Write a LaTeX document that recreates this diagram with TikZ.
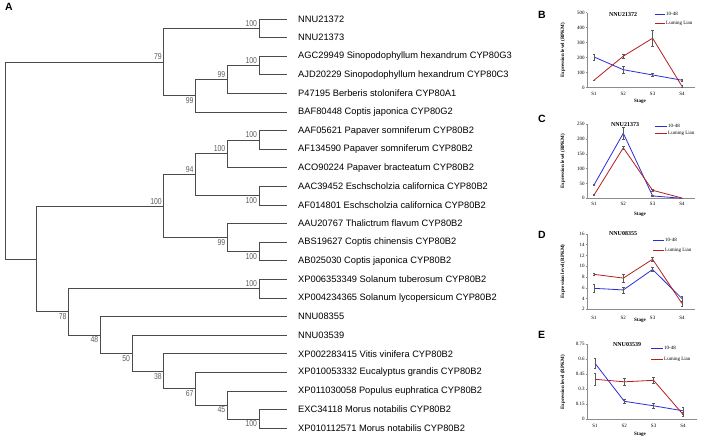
\documentclass[tikz,border=0pt]{standalone}
\usepackage{fontspec}
\setmainfont{Liberation Sans}
\newfontfamily\serfont{Liberation Serif}
\newfontfamily\bootfont[FakeStretch=0.8]{Liberation Sans}
\usetikzlibrary{arrows.meta}
\definecolor{treegray}{RGB}{75,75,75}
\definecolor{bootgray}{RGB}{95,95,95}
\definecolor{serblue}{RGB}{45,45,215}
\definecolor{serred}{RGB}{185,30,30}
\definecolor{axisgray}{RGB}{140,140,140}
\begin{document}
\begin{tikzpicture}[x=1pt,y=-1pt,
  branch/.style={draw=treegray, line width=0.75pt},
  leaflab/.style={anchor=west, inner sep=0pt, font=\fontsize{9.3}{10}\selectfont},
  boot/.style={font=\bootfont\fontsize{8.6}{9}\selectfont, text=bootgray, inner sep=1.8pt},
  panel/.style={font=\bfseries\fontsize{10.5}{12}\selectfont, inner sep=0pt},
  axisline/.style={draw=axisgray, line width=0.5pt},
  ticklab/.style={font=\serfont\fontsize{5}{6}\selectfont, anchor=east, inner sep=0.8pt},
  catlab/.style={font=\serfont\fontsize{5}{6}\selectfont, anchor=north, inner sep=0pt},
  charttitle/.style={font=\serfont\bfseries\fontsize{6}{7}\selectfont, inner sep=0pt},
  leglab/.style={font=\serfont\fontsize{5}{6}\selectfont, anchor=west, inner sep=0pt},
  ylab/.style={font=\serfont\bfseries\fontsize{5}{6}\selectfont, rotate=90, inner sep=0pt},
  xlab/.style={font=\serfont\bfseries\fontsize{5}{6}\selectfont, inner sep=0pt},
  blueser/.style={draw=serblue, line width=0.8pt, line join=round},
  redser/.style={draw=serred, line width=0.8pt, line join=round},
  errbar/.style={draw=black!65, line width=0.35pt, {Bar[width=2.5pt]}-{Bar[width=2.5pt]}}
]
\path[use as bounding box, fill=white] (0,0) rectangle (708,441);

\node[panel, anchor=west] (pA) at (5,7) {A};

% ---------- leaves ----------
\foreach \i/\t in {0/NNU21372, 1/NNU21373,
  2/AGC29949 Sinopodophyllum hexandrum CYP80G3,
  3/AJD20229 Sinopodophyllum hexandrum CYP80C3,
  4/P47195 Berberis stolonifera CYP80A1,
  5/BAF80448 Coptis japonica CYP80G2,
  6/AAF05621 Papaver somniferum CYP80B2,
  7/AF134590 Papaver somniferum CYP80B2,
  8/ACO90224 Papaver bracteatum CYP80B2,
  9/AAC39452 Eschscholzia californica CYP80B2,
  10/AF014801 Eschscholzia californica CYP80B2,
  11/AAU20767 Thalictrum flavum CYP80B2,
  12/ABS19627 Coptis chinensis CYP80B2,
  13/AB025030 Coptis japonica CYP80B2,
  14/XP006353349 Solanum tuberosum CYP80B2,
  15/XP004234365 Solanum lycopersicum CYP80B2,
  16/NNU08355, 17/NNU03539,
  18/XP002283415 Vitis vinifera CYP80B2,
  19/XP010053332 Eucalyptus grandis CYP80B2,
  20/XP011030058 Populus euphratica CYP80B2,
  21/EXC34118 Morus notabilis CYP80B2,
  22/XP010112571 Morus notabilis CYP80B2}
{
  \coordinate (L\i) at (287,{19+18.6*\i});
  \node[leaflab] (T\i) at (298,{19+18.6*\i}) {\t};
}

% ---------- internal nodes ----------
\coordinate (root) at (5,160.5);
\coordinate[label={[boot]above left:79}] (n5) at (163.75,62.0);
\coordinate[label={[boot]above left:100}] (n1) at (259,28.3);
\coordinate[label={[boot]below left:99}] (n4) at (195.5,95.73);
\coordinate[label={[boot]above left:99}] (n3) at (227.25,79.45);
\coordinate[label={[boot]above left:100}] (n2) at (259,65.5);
\coordinate (n21) at (36.75,258.98);
\coordinate[label={[boot]above left:100}] (n12) at (163.75,206.16);
\coordinate[label={[boot]above left:94}] (n9) at (195.5,174.78);
\coordinate[label={[boot]above left:100}] (n7) at (227.25,153.85);
\coordinate[label={[boot]above left:100}] (n6) at (259,139.9);
\coordinate[label={[boot]below left:100}] (n8) at (259,195.7);
\coordinate[label={[boot]below left:99}] (n11) at (227.25,237.55);
\coordinate[label={[boot]below left:100}] (n10) at (259,251.5);
\coordinate[label={[boot]below left:78}] (n20) at (68.5,311.8);
\coordinate[label={[boot]above left:100}] (n13) at (259,288.7);
\coordinate[label={[boot]below left:48}] (n19) at (100.25,334.91);
\coordinate[label={[boot]below left:50}] (n18) at (132,353.22);
\coordinate[label={[boot]below left:38}] (n17) at (163.75,371.24);
\coordinate[label={[boot]below left:67}] (n16) at (195.5,388.68);
\coordinate[label={[boot]below left:45}] (n15) at (227.25,404.95);
\coordinate[label={[boot]below left:100}] (n14) at (259,418.9);

% ---------- branches ----------
\draw[branch] (root) |- (n5);  \draw[branch] (root) |- (n21);
\draw[branch] (n5) |- (n1);    \draw[branch] (n5) |- (n4);
\draw[branch] (n1) |- (L0);    \draw[branch] (n1) |- (L1);
\draw[branch] (n4) |- (n3);    \draw[branch] (n4) |- (L5);
\draw[branch] (n3) |- (n2);    \draw[branch] (n3) |- (L4);
\draw[branch] (n2) |- (L2);    \draw[branch] (n2) |- (L3);
\draw[branch] (n21) |- (n12);  \draw[branch] (n21) |- (n20);
\draw[branch] (n12) |- (n9);   \draw[branch] (n12) |- (n11);
\draw[branch] (n9) |- (n7);    \draw[branch] (n9) |- (n8);
\draw[branch] (n7) |- (n6);    \draw[branch] (n7) |- (L8);
\draw[branch] (n6) |- (L6);    \draw[branch] (n6) |- (L7);
\draw[branch] (n8) |- (L9);    \draw[branch] (n8) |- (L10);
\draw[branch] (n11) |- (L11);  \draw[branch] (n11) |- (n10);
\draw[branch] (n10) |- (L12);  \draw[branch] (n10) |- (L13);
\draw[branch] (n20) |- (n13);  \draw[branch] (n20) |- (n19);
\draw[branch] (n13) |- (L14);  \draw[branch] (n13) |- (L15);
\draw[branch] (n19) |- (L16);  \draw[branch] (n19) |- (n18);
\draw[branch] (n18) |- (L17);  \draw[branch] (n18) |- (n17);
\draw[branch] (n17) |- (L18);  \draw[branch] (n17) |- (n16);
\draw[branch] (n16) |- (L19);  \draw[branch] (n16) |- (n15);
\draw[branch] (n15) |- (L20);  \draw[branch] (n15) |- (n14);
\draw[branch] (n14) |- (L21);  \draw[branch] (n14) |- (L22);

% ---------- chart B ----------
\node[panel, anchor=west] (pB) at (538,15) {B};
\begin{scope}[xshift=587pt, yshift=-87.7pt, x=1pt, y=0.15pt]
  \draw[axisline] (0,0) -- (0,500);
  \draw[axisline] (0,0) -- (108,0);
  \foreach \t in {0,100,...,500} {\draw[axisline] (-1.5,\t) -- (0,\t); \node[ticklab] at (-1.5,\t) {\t};}
  \foreach \s [count=\i] in {S1,S2,S3,S4} \node[catlab] at ({7+29.3*(\i-1)},-27) {\s};
  \node[xlab] (xB) at (53,-93) {Stage};
  \node[ylab] (yB) at (-24,250) {Expression level (RPKM)};
  \node[charttitle] (tB) at (36,488) {NNU21372};
  \foreach \v/\e [count=\i] in {205/20, 120/25, 85/12, 50/8} \coordinate (Bb\i) at ({7+29.3*(\i-1)},\v);
  \foreach \v/\e [count=\i] in {50/4, 210/12, 330/55, 10/5} \coordinate (Br\i) at ({7+29.3*(\i-1)},\v);
  \draw[blueser] (Bb1) -- (Bb2) -- (Bb3) -- (Bb4);
  \draw[redser] (Br1) -- (Br2) -- (Br3) -- (Br4);
  \foreach \v/\e [count=\i] in {205/20, 120/25, 85/12, 50/8} \draw[errbar] ({7+29.3*(\i-1)},\v-\e) -- ({7+29.3*(\i-1)},\v+\e);
  \foreach \v/\e [count=\i] in {50/4, 210/12, 330/55, 10/5} \draw[errbar] ({7+29.3*(\i-1)},\v-\e) -- ({7+29.3*(\i-1)},\v+\e);
  \coordinate (Bl1a) at (68,490); \coordinate (Bl1b) at (78,490);
  \coordinate (Bl2a) at (68,430); \coordinate (Bl2b) at (78,430);
  \draw[blueser] (Bl1a) -- (Bl1b); \node[leglab] at (79,490) {10-48};
  \draw[redser] (Bl2a) -- (Bl2b); \node[leglab] at (79,430) {Luming Lian};
\end{scope}

% ---------- chart C ----------
\node[panel, anchor=west] (pC) at (538,119) {C};
\begin{scope}[xshift=587pt, yshift=-198.3pt, x=1pt, y=0.297pt]
  \draw[axisline] (0,0) -- (0,250);
  \draw[axisline] (0,0) -- (108,0);
  \foreach \t in {0,50,...,250} {\draw[axisline] (-1.5,\t) -- (0,\t); \node[ticklab] at (-1.5,\t) {\t};}
  \foreach \s [count=\i] in {S1,S2,S3,S4} \node[catlab] at ({7+29.3*(\i-1)},-14) {\s};
  \node[xlab] (xC) at (53,-53) {Stage};
  \node[ylab] (yC) at (-24,125) {Expression level (RPKM)};
  \node[charttitle] (tC) at (38,250) {NNU21373};
  \foreach \v/\e [count=\i] in {45/3, 219/20, 8/3, 0/1} \coordinate (Cb\i) at ({7+29.3*(\i-1)},\v);
  \foreach \v/\e [count=\i] in {11/2, 170/6, 27/5, 1/1} \coordinate (Cr\i) at ({7+29.3*(\i-1)},\v);
  \draw[blueser] (Cb1) -- (Cb2) -- (Cb3) -- (Cb4);
  \draw[redser] (Cr1) -- (Cr2) -- (Cr3) -- (Cr4);
  \foreach \v/\e [count=\i] in {45/3, 219/20, 8/3, 0/1} \draw[errbar] ({7+29.3*(\i-1)},\v-\e) -- ({7+29.3*(\i-1)},\v+\e);
  \foreach \v/\e [count=\i] in {11/2, 170/6, 27/5, 1/1} \draw[errbar] ({7+29.3*(\i-1)},\v-\e) -- ({7+29.3*(\i-1)},\v+\e);
  \coordinate (Cl1a) at (68,243); \coordinate (Cl1b) at (80,243);
  \coordinate (Cl2a) at (68,218); \coordinate (Cl2b) at (80,218);
  \draw[blueser] (Cl1a) -- (Cl1b); \node[leglab] at (81,243) {10-48};
  \draw[redser] (Cl2a) -- (Cl2b); \node[leglab] at (81,218) {Luming Lian};
\end{scope}

% ---------- chart D ----------
\node[panel, anchor=west] (pD) at (538,235) {D};
\begin{scope}[xshift=587pt, yshift=-320.06pt, x=1pt, y=5.38pt]
  \draw[axisline] (0,2) -- (0,16);
  \draw[axisline] (0,2) -- (108,2);
  \foreach \t in {2,4,...,16} {\draw[axisline] (-1.5,\t) -- (0,\t); \node[ticklab] at (-1.5,\t) {\t};}
  \foreach \s [count=\i] in {S1,S2,S3,S4} \node[catlab] at ({7+29.3*(\i-1)},0.8) {\s};
  \node[xlab] (xD) at (53,0.0) {Stage};
  \node[ylab] (yD) at (-24,9) {Expression level (RPKM)};
  \node[charttitle] (tD) at (36,16) {NNU08355};
  \foreach \v/\e [count=\i] in {5.9/0.8, 5.6/0.6, 9.4/0.4, 4.0/0.5} \coordinate (Db\i) at ({7+29.3*(\i-1)},\v);
  \foreach \v/\e [count=\i] in {8.5/0.2, 7.8/0.7, 11.3/0.4, 3.1/0.5} \coordinate (Dr\i) at ({7+29.3*(\i-1)},\v);
  \draw[blueser] (Db1) -- (Db2) -- (Db3) -- (Db4);
  \draw[redser] (Dr1) -- (Dr2) -- (Dr3) -- (Dr4);
  \foreach \v/\e [count=\i] in {5.9/0.8, 5.6/0.6, 9.4/0.4, 4.0/0.5} \draw[errbar] ({7+29.3*(\i-1)},\v-\e) -- ({7+29.3*(\i-1)},\v+\e);
  \foreach \v/\e [count=\i] in {8.5/0.2, 7.8/0.7, 11.3/0.4, 3.1/0.5} \draw[errbar] ({7+29.3*(\i-1)},\v-\e) -- ({7+29.3*(\i-1)},\v+\e);
  \coordinate (Dl1a) at (66,14.9); \coordinate (Dl1b) at (77,14.9);
  \coordinate (Dl2a) at (66,12.9); \coordinate (Dl2b) at (77,12.9);
  \draw[blueser] (Dl1a) -- (Dl1b); \node[leglab] at (78,14.9) {10-48};
  \draw[redser] (Dl2a) -- (Dl2b); \node[leglab] at (78,12.9) {Luming Lian};
\end{scope}

% ---------- chart E ----------
\node[panel, anchor=west] (pE) at (538,335) {E};
\begin{scope}[xshift=587pt, yshift=-419.3pt, x=1pt, y=100pt]
  \draw[axisline] (0,0) -- (0,0.75);
  \draw[axisline] (0,0) -- (110,0);
  \foreach \t/\l in {0/0, 0.15/0.15, 0.3/0.3, 0.45/0.45, 0.6/0.6, 0.75/0.75} {\draw[axisline] (-1.5,\t) -- (0,\t); \node[ticklab] at (-1.5,\t) {\l};}
  \foreach \s [count=\i] in {S1,S2,S3,S4} \node[catlab] at ({8+29.3*(\i-1)},-0.05) {\s};
  \node[xlab] (xE) at (53,-0.15) {Stage};
  \node[ylab] (yE) at (-24,0.37) {Expression level (RPKM)};
  \node[charttitle] (tE) at (40,0.75) {NNU03539};
  \foreach \v/\e [count=\i] in {0.56/0.05, 0.18/0.02, 0.135/0.03, 0.085/0.04} \coordinate (Eb\i) at ({8+29.3*(\i-1)},\v);
  \foreach \v/\e [count=\i] in {0.40/0.06, 0.375/0.035, 0.39/0.035, 0.05/0.02} \coordinate (Er\i) at ({8+29.3*(\i-1)},\v);
  \draw[blueser] (Eb1) -- (Eb2) -- (Eb3) -- (Eb4);
  \draw[redser] (Er1) -- (Er2) -- (Er3) -- (Er4);
  \foreach \v/\e [count=\i] in {0.56/0.05, 0.18/0.02, 0.135/0.03, 0.085/0.04} \draw[errbar] ({8+29.3*(\i-1)},\v-\e) -- ({8+29.3*(\i-1)},\v+\e);
  \foreach \v/\e [count=\i] in {0.40/0.06, 0.375/0.035, 0.39/0.035, 0.05/0.02} \draw[errbar] ({8+29.3*(\i-1)},\v-\e) -- ({8+29.3*(\i-1)},\v+\e);
  \coordinate (El1a) at (64,0.71); \coordinate (El1b) at (76,0.71);
  \coordinate (El2a) at (64,0.60); \coordinate (El2b) at (76,0.60);
  \draw[blueser] (El1a) -- (El1b); \node[leglab] at (77,0.71) {10-48};
  \draw[redser] (El2a) -- (El2b); \node[leglab] at (77,0.60) {Luming Lian};
\end{scope}
\end{tikzpicture}
\end{document}
